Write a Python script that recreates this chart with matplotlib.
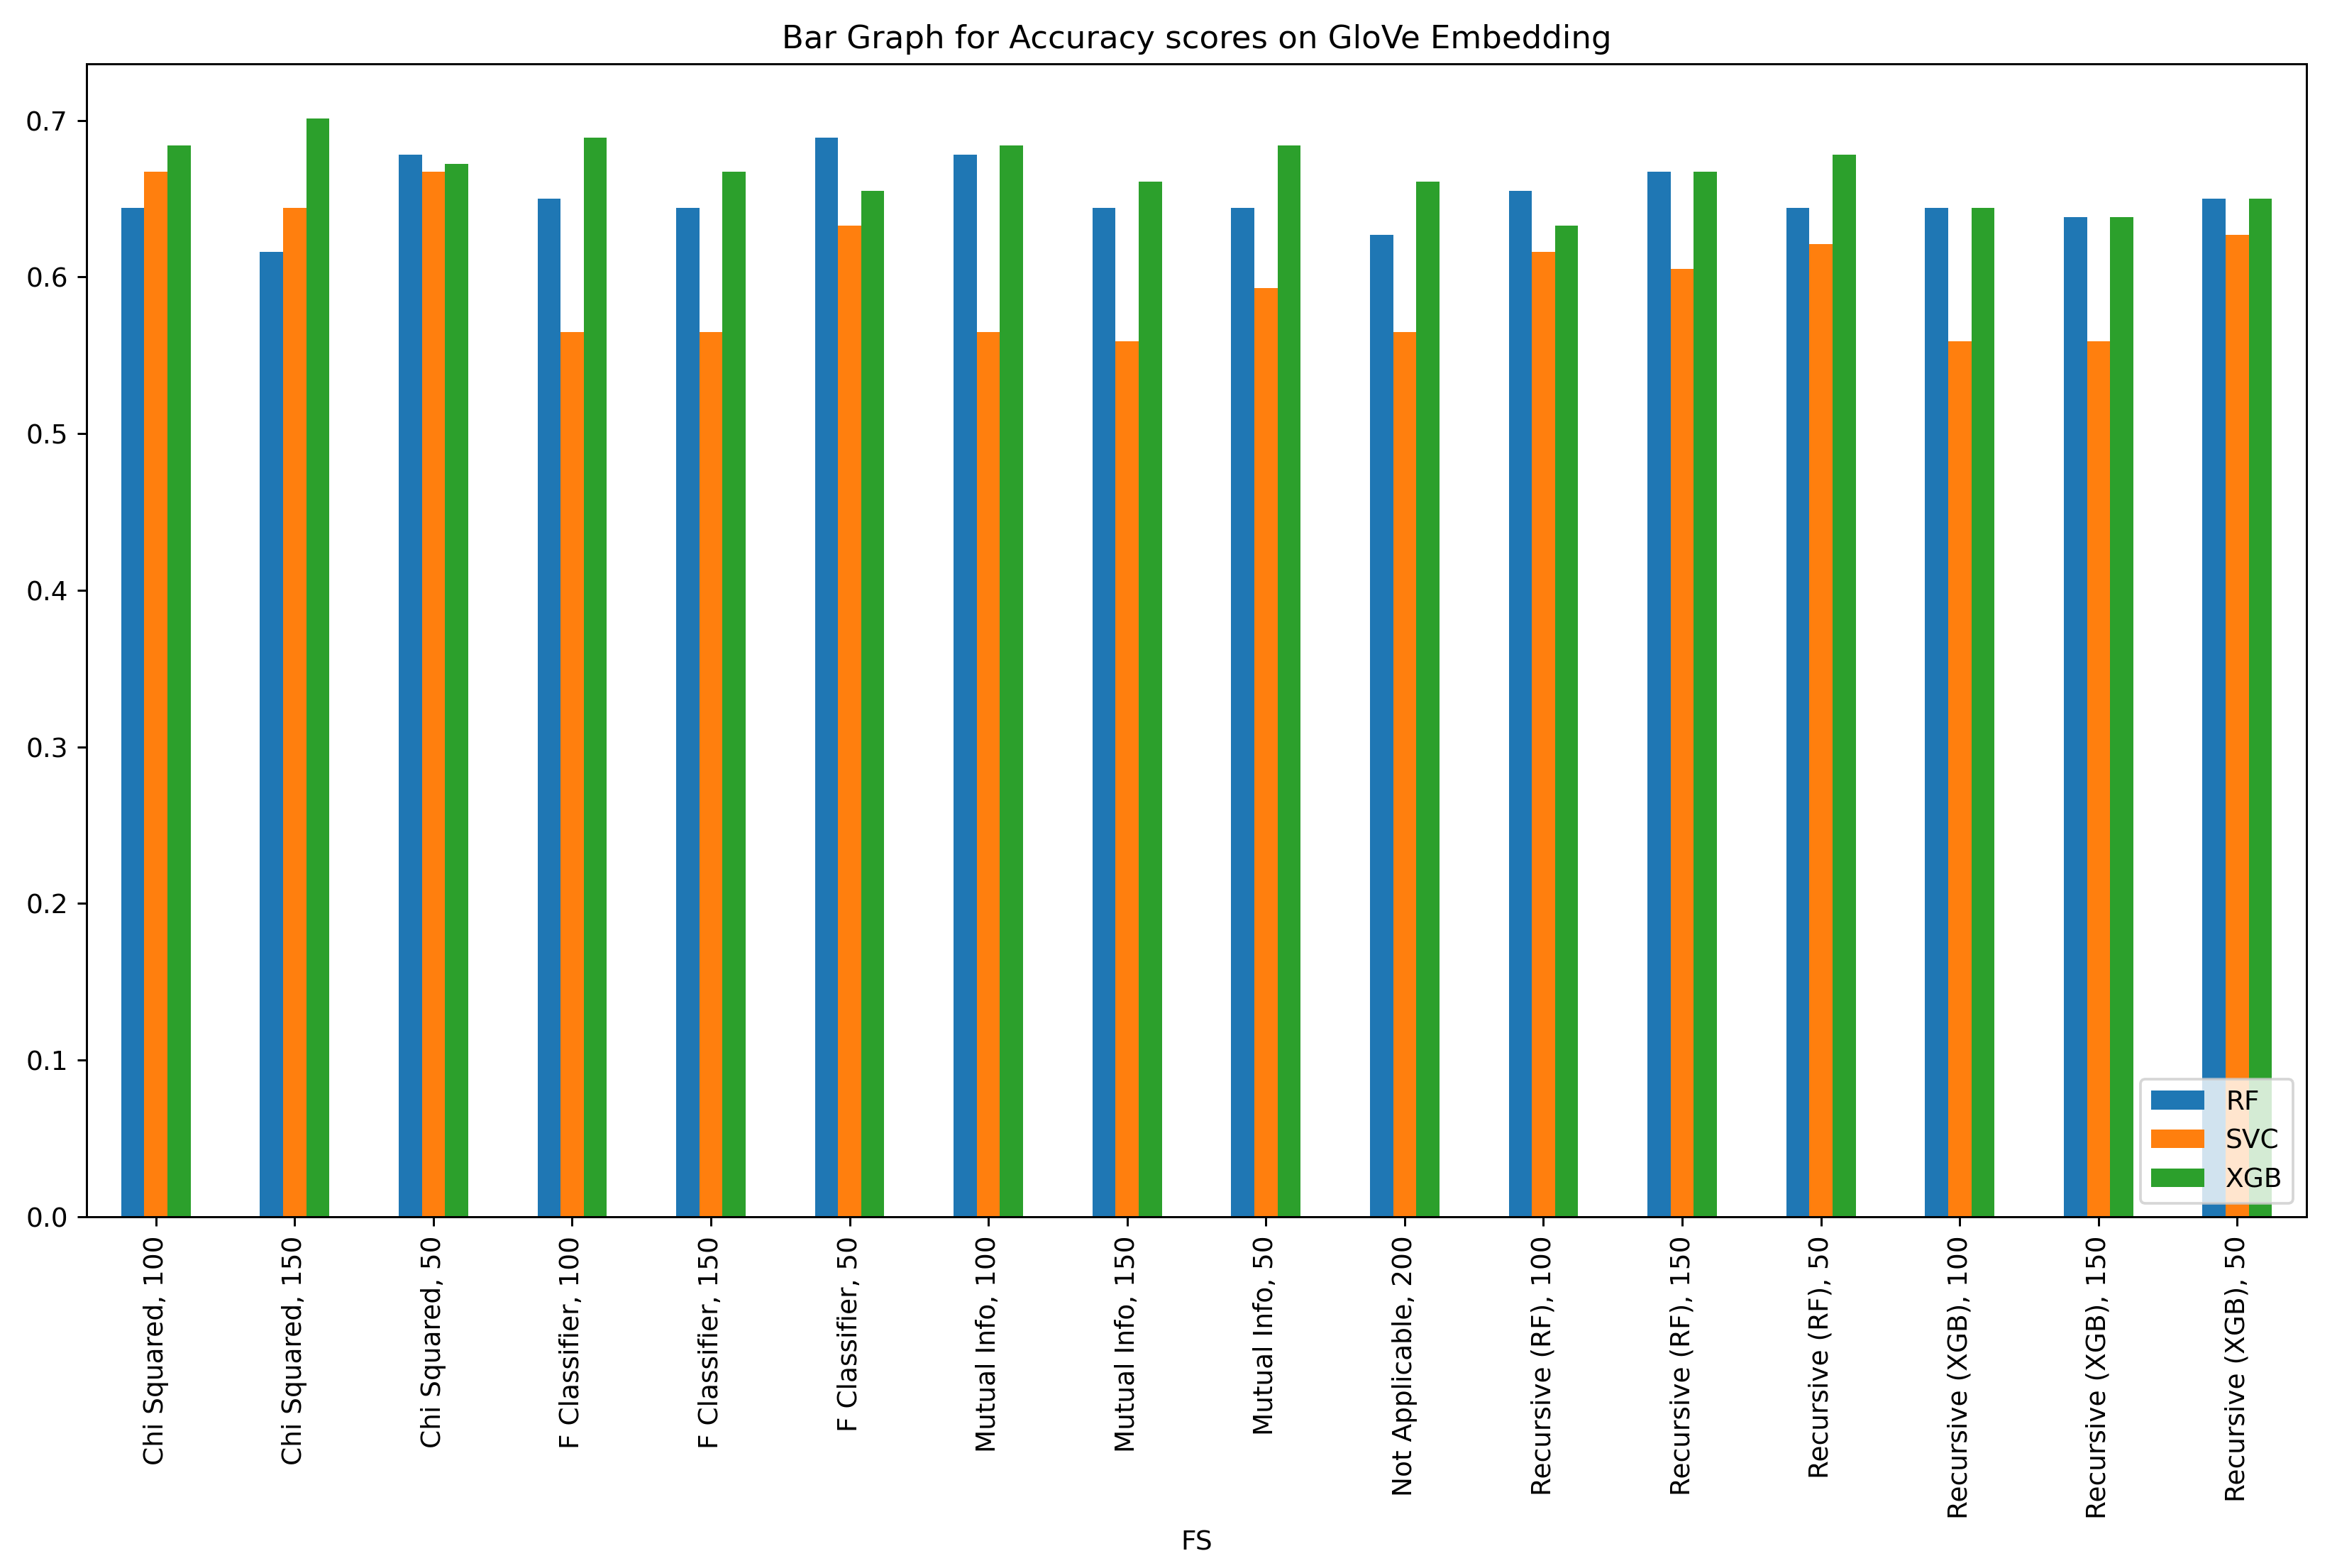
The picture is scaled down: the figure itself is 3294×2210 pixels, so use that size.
import os
os.environ['MPLBACKEND'] = 'Agg'

import numpy as np
import matplotlib.pyplot as plt

categories = [
    'Chi Squared, 100', 'Chi Squared, 150', 'Chi Squared, 50',
    'F Classifier, 100', 'F Classifier, 150', 'F Classifier, 50',
    'Mutual Info, 100', 'Mutual Info, 150', 'Mutual Info, 50',
    'Not Applicable, 200',
    'Recursive (RF), 100', 'Recursive (RF), 150', 'Recursive (RF), 50',
    'Recursive (XGB), 100', 'Recursive (XGB), 150', 'Recursive (XGB), 50',
]
rf = [0.644, 0.616, 0.678, 0.650, 0.644, 0.689, 0.678, 0.644, 0.644,
      0.627, 0.655, 0.667, 0.644, 0.644, 0.638, 0.650]
svc = [0.667, 0.644, 0.667, 0.565, 0.565, 0.633, 0.565, 0.559, 0.593,
       0.565, 0.616, 0.605, 0.621, 0.559, 0.559, 0.627]
xgb = [0.684, 0.701, 0.672, 0.689, 0.667, 0.655, 0.684, 0.661, 0.684,
       0.661, 0.633, 0.667, 0.678, 0.644, 0.638, 0.650]
series = {'RF': rf, 'SVC': svc, 'XGB': xgb}

dpi = 270
fig = plt.figure(figsize=(3294 / dpi, 2210.6 / dpi), dpi=dpi)
ax = fig.add_axes([0.037, 0.224, 0.950, 0.735])

x = np.arange(len(categories))
w = 0.5 / len(series)
for i, (name, vals) in enumerate(series.items()):
    ax.bar(x + (i - 1) * w, vals, width=w, label=name, color=f'C{i}')

ax.set_xlim(-0.5, len(categories) - 0.5)
ax.set_xticks(x)
ax.set_xticklabels(categories, rotation=90)
ax.set_xlabel('FS')
ax.set_title('Bar Graph for Accuracy scores on GloVe Embedding')
ax.legend(loc='lower right')

fig.savefig('out.png', dpi=dpi)
